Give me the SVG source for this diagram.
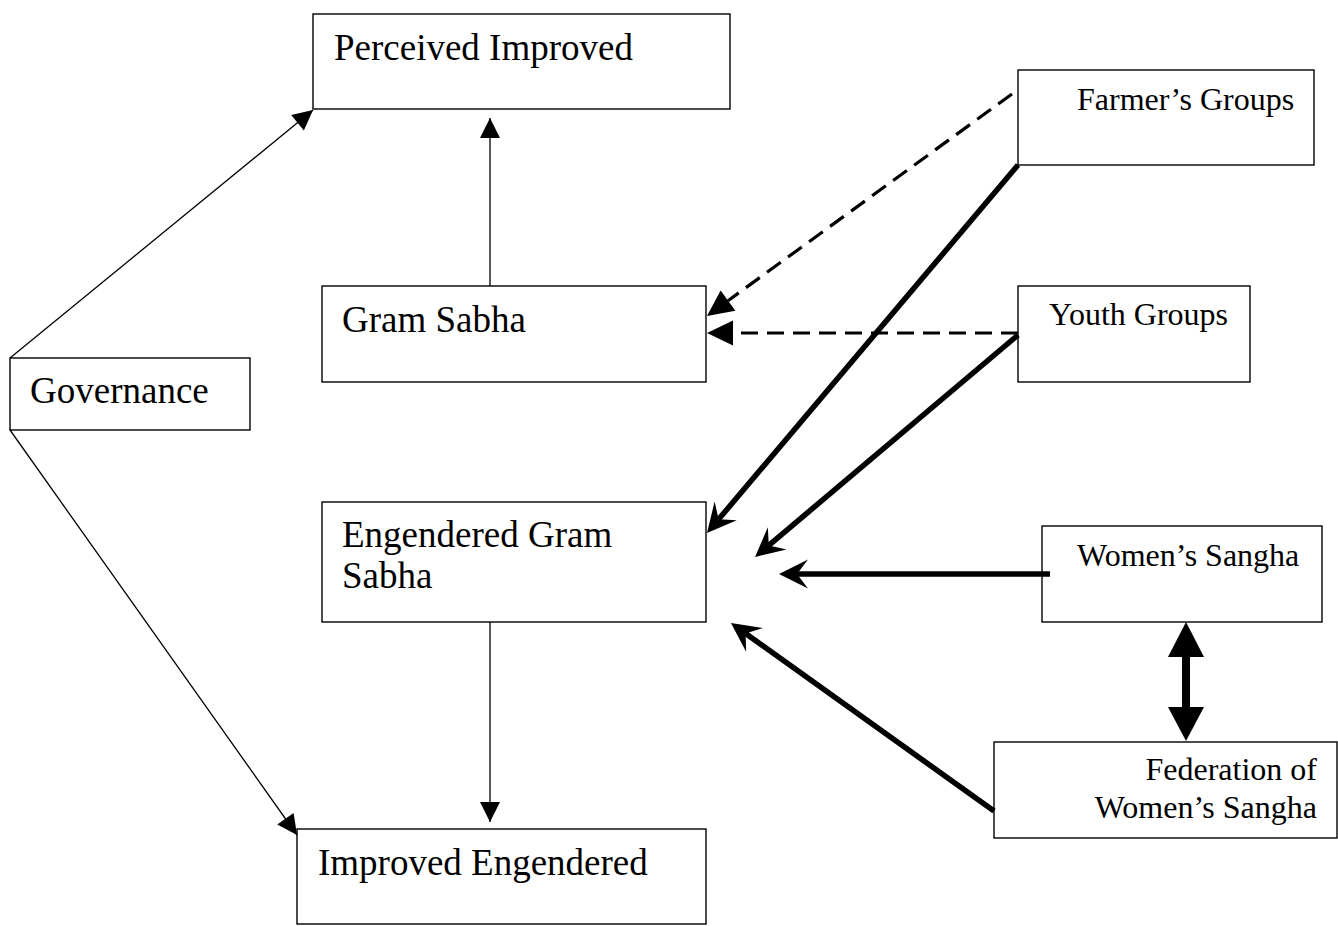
<svg xmlns="http://www.w3.org/2000/svg" width="1338" height="926" viewBox="0 0 1338 926">
<style>
.box{fill:#fff;stroke:#000;stroke-width:1.4}
.big{font-family:"Liberation Serif","Times New Roman",serif;font-size:37px;fill:#000}
.sm{font-family:"Liberation Serif","Times New Roman",serif;font-size:32px;fill:#000}
.thin{stroke:#000;stroke-width:1.3;fill:none}
.dash{stroke:#000;stroke-width:3.2;stroke-dasharray:17 9;fill:none}
.thick{stroke:#000;stroke-width:5.5;fill:none}
</style>
<defs>
<marker id="tri" markerUnits="userSpaceOnUse" markerWidth="40" markerHeight="40" viewBox="-25 -20 40 40" refX="0" refY="0" orient="auto" overflow="visible">
<path d="M0,0 L-20,-10 L-20,10 Z" fill="#000"/>
</marker>
<marker id="triD" markerUnits="userSpaceOnUse" markerWidth="40" markerHeight="40" viewBox="-5 -20 40 40" refX="0" refY="0" orient="auto" overflow="visible">
<path d="M26,0 L0,-12.5 L0,12.5 Z" fill="#000"/>
</marker>
<marker id="stealth" markerUnits="userSpaceOnUse" markerWidth="40" markerHeight="40" viewBox="-15 -20 40 40" refX="0" refY="0" orient="auto" overflow="visible">
<path d="M18,0 L-11,-14.5 L0,0 L-11,14.5 Z" fill="#000"/>
</marker>
</defs>
<g id="perceived">
<rect class="box" x="313" y="14" width="417" height="95"/>
<text class="big" x="334" y="60">Perceived Improved</text>
</g>
<g id="governance">
<rect class="box" x="10" y="358" width="240" height="72"/>
<text class="big" x="30" y="403">Governance</text>
</g>
<g id="gram-sabha">
<rect class="box" x="322" y="286" width="384" height="96"/>
<text class="big" x="342" y="332">Gram Sabha</text>
</g>
<g id="engendered">
<rect class="box" x="322" y="502" width="384" height="120"/>
<text class="big" x="342" y="547">Engendered Gram</text>
<text class="big" x="342" y="588">Sabha</text>
</g>
<g id="improved-engendered">
<rect class="box" x="297" y="829" width="409" height="95"/>
<text class="big" x="318" y="875">Improved Engendered</text>
</g>
<g id="farmers">
<rect class="box" x="1018" y="70" width="296" height="95"/>
<text class="sm" x="1077" y="110">Farmer’s Groups</text>
</g>
<g id="youth">
<rect class="box" x="1018" y="286" width="232" height="96"/>
<text class="sm" x="1049" y="325">Youth Groups</text>
</g>
<g id="womens">
<rect class="box" x="1042" y="526" width="280" height="96"/>
<text class="sm" x="1077" y="566">Women’s Sangha</text>
</g>
<g id="federation">
<rect class="box" x="994" y="742" width="343" height="96"/>
<text class="sm" x="1317" y="780" text-anchor="end">Federation of</text>
<text class="sm" x="1317" y="818" text-anchor="end">Women’s Sangha</text>
</g>
<g id="connectors">
<line class="thin" x1="10" y1="358" x2="313" y2="110" marker-end="url(#tri)"/>
<line class="thin" x1="10" y1="430" x2="297" y2="835" marker-end="url(#tri)"/>
<line class="thin" x1="490" y1="286" x2="490" y2="118" marker-end="url(#tri)"/>
<line class="thin" x1="490" y1="622" x2="490" y2="822" marker-end="url(#tri)"/>
<line class="dash" x1="1012" y1="94" x2="728" y2="300.7" marker-end="url(#triD)"/>
<line class="dash" x1="1018" y1="333" x2="733" y2="333" marker-end="url(#triD)"/>
<line class="thick" x1="1018" y1="165" x2="718.6" y2="519.3" marker-end="url(#stealth)"/>
<line class="thick" x1="1018" y1="335" x2="768.8" y2="545.4" marker-end="url(#stealth)"/>
<line class="thick" x1="1050" y1="574" x2="797" y2="574" marker-end="url(#stealth)"/>
<line class="thick" x1="994" y1="811" x2="745.6" y2="633.5" marker-end="url(#stealth)"/>
<g id="double-arrow">
<rect x="1182" y="655" width="8" height="54" fill="#000"/>
<polygon points="1186,622 1168,657 1204,657" fill="#000"/>
<polygon points="1168,707 1204,707 1186,741" fill="#000"/>
</g>
</g>
</svg>
